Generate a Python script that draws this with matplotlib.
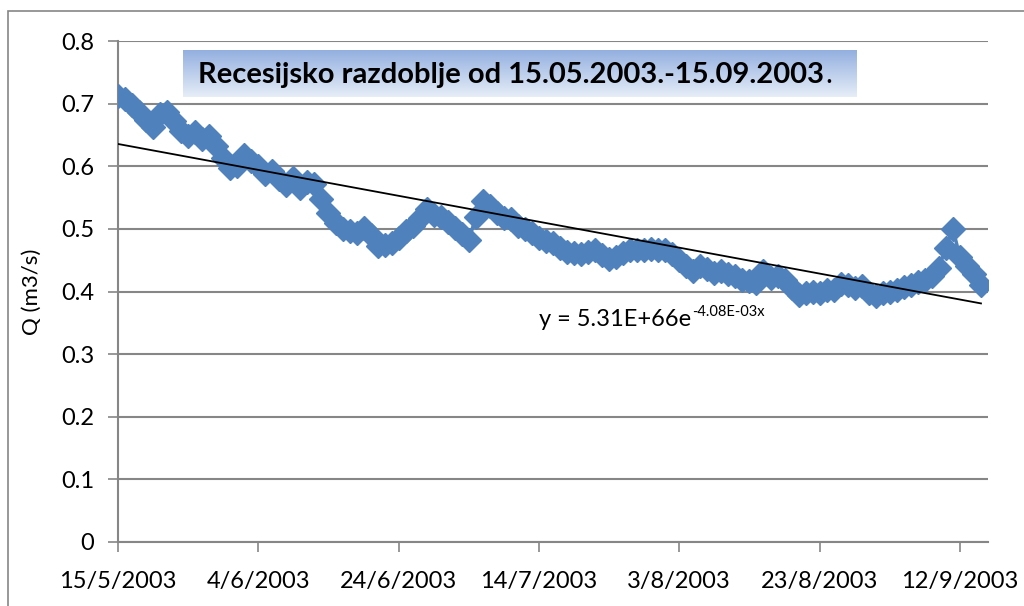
# import all libraries
import numpy as np
import matplotlib
matplotlib.use('Agg')
import matplotlib.pyplot as plt
import matplotlib.dates as mdates
import pandas as pd

plt.rcParams['font.family'] = ['Lato', 'DejaVu Sans']

# daily discharge
dates = pd.date_range('2003-05-15', '2003-09-15', freq='D')
q = [0.712, 0.708, 0.698, 0.687, 0.674, 0.663, 0.683, 0.686, 0.673, 0.657,
     0.648, 0.654, 0.644, 0.648, 0.633, 0.613, 0.598, 0.600, 0.618, 0.609,
     0.601, 0.588, 0.592, 0.580, 0.570, 0.582, 0.565, 0.575, 0.572, 0.548,
     0.525, 0.509, 0.500, 0.497, 0.494, 0.502, 0.490, 0.472, 0.474, 0.478,
     0.486, 0.496, 0.504, 0.518, 0.532, 0.522, 0.519, 0.511, 0.502, 0.492,
     0.482, 0.519, 0.545, 0.536, 0.526, 0.518, 0.515, 0.505, 0.500, 0.493,
     0.486, 0.480, 0.477, 0.470, 0.463, 0.462, 0.460, 0.463, 0.467, 0.458,
     0.452, 0.455, 0.462, 0.466, 0.466, 0.467, 0.468, 0.466, 0.467, 0.460,
     0.450, 0.440, 0.432, 0.440, 0.436, 0.430, 0.432, 0.428, 0.425, 0.418,
     0.416, 0.414, 0.432, 0.422, 0.425, 0.418, 0.405, 0.395, 0.398, 0.400,
     0.398, 0.402, 0.403, 0.412, 0.410, 0.405, 0.408, 0.398, 0.393, 0.397,
     0.400, 0.402, 0.407, 0.410, 0.415, 0.418, 0.425, 0.438, 0.470, 0.500,
     0.455, 0.440, 0.428, 0.410]

tick_dates = pd.date_range('2003-05-15', periods=7, freq='20D')
tick_labels = ['15/5/2003', '4/6/2003', '24/6/2003', '14/7/2003',
               '3/8/2003', '23/8/2003', '12/9/2003']
y_ticks = [0, 0.1, 0.2, 0.3, 0.4, 0.5, 0.6, 0.7, 0.8]

blue = '#4F81BD'
grid_grey = '#868686'

fig = plt.figure(figsize=(10.24, 6.06), dpi=100)
ax = fig.add_axes([118/1024, 1 - 542/606, 870/1024, 501/606])

# series
ax.plot(dates, q, color=blue, lw=2.5, marker='D', ms=12, mec=blue, mfc=blue, zorder=3)

# exponential trend line fitted on the data
xn = mdates.date2num(dates)
b, a = np.polyfit(xn, np.log(q), 1)
ax.plot(dates[[0, -1]], np.exp(a + b * xn[[0, -1]]), color='black', lw=1.3, zorder=4)

# axes
ax.set_xlim(dates[0], pd.Timestamp('2003-09-16'))
ax.set_ylim(0, 0.8)
ax.set_xticks(tick_dates)
ax.set_xticklabels(tick_labels)
ax.set_yticks(y_ticks)
ax.set_yticklabels(['0'] + ['%.1f' % v for v in y_ticks[1:]])
ax.tick_params(axis='both', labelsize=17, colors=grid_grey, labelcolor='black',
               length=7, width=1.2)
ax.tick_params(axis='x', pad=14)
ax.tick_params(axis='y', pad=10)
ax.yaxis.grid(True, color=grid_grey, lw=1.5)
ax.set_axisbelow(True)
for s in ['top', 'right']:
    ax.spines[s].set_visible(False)
for s in ['left', 'bottom']:
    ax.spines[s].set_color(grid_grey)
    ax.spines[s].set_linewidth(1.5)
ax.set_ylabel('Q (m3/s)', fontsize=16, labelpad=14)

# trend equation
eq = ax.text(pd.Timestamp('2003-07-14'), 0.345, 'y = 5.31E+66e', fontsize=17,
             va='baseline')
ax.annotate('-4.08E-03x', xy=(1, 1), xycoords=eq, xytext=(1, 3),
            textcoords='offset points', fontsize=10.5, va='top', ha='left')

# title box with gradient
tax = fig.add_axes([183/1024, 1 - 97/606, 674/1024, 47/606])
grad = np.linspace(0, 1, 50).reshape(-1, 1)
top = np.array([0.58, 0.69, 0.88])
bottom = np.array([0.90, 0.93, 0.97])
img = top + grad[..., None] * (bottom - top)
tax.imshow(img, aspect='auto', extent=[0, 1, 0, 1], origin='upper')
tax.set_axis_off()
title = tax.text(0.022, 0.47, 'Recesijsko razdoblje od 15.05.2003.-15.09.2003',
                 fontsize=21, fontweight='bold', va='center', ha='left')
tax.annotate('.', xy=(1, 0.5), xycoords=title, xytext=(1, 0),
             textcoords='offset points', fontsize=21, va='center', ha='left')

# outer chart border
fig.patches.append(plt.Rectangle((8/1024, -0.1), 1.2, 1 - 11/606 + 0.1,
                                 transform=fig.transFigure, fill=False,
                                 ec=grid_grey, lw=1.2))

fig.savefig('out.png', dpi=100)
